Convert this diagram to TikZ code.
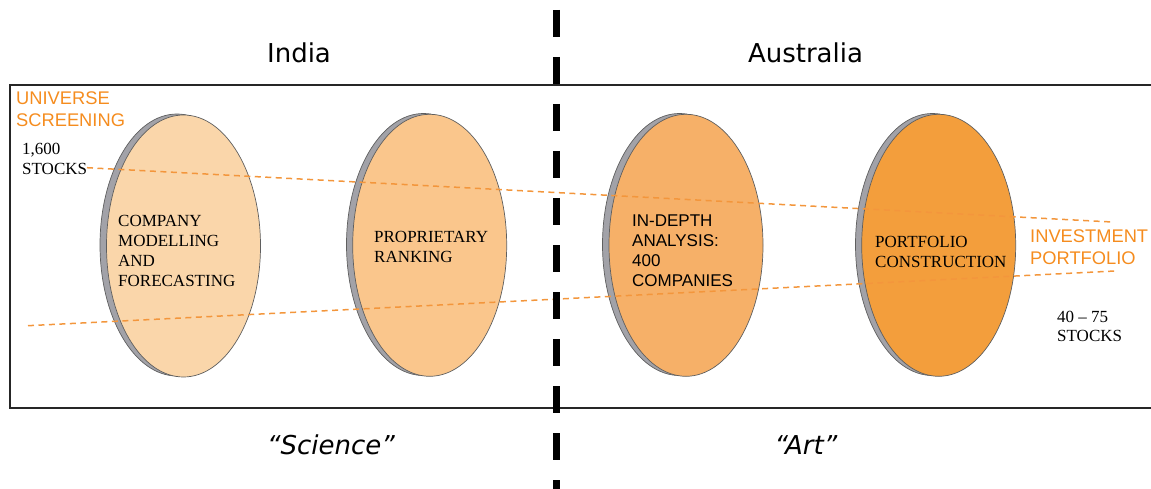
\documentclass[tikz,border=0pt]{standalone}
\usepackage{fontspec}
\setmainfont{Liberation Serif}
\newfontfamily\arialf{Liberation Sans}
\newfontfamily\dejavuf{DejaVu Sans}
\usetikzlibrary{shapes.geometric}
\definecolor{peachA}{RGB}{250,214,170}
\definecolor{peachB}{RGB}{250,198,140}
\definecolor{peachC}{RGB}{246,176,104}
\definecolor{peachD}{RGB}{243,158,60}
\definecolor{rimgray}{RGB}{162,162,168}
\definecolor{edgegray}{RGB}{95,95,95}
\definecolor{orangetxt}{RGB}{245,140,30}
\definecolor{orangeline}{RGB}{243,150,60}
\begin{document}
\begin{tikzpicture}[x=1pt,y=-1pt,
  disc/.style={ellipse,draw=edgegray,line width=0.7pt,minimum width=154pt,minimum height=262pt,inner sep=0pt,outer sep=0pt},
  rim/.style={disc,fill=rimgray},
  serlab/.style={anchor=north west,inner sep=0pt,align=left,font=\fontsize{17}{20}\selectfont},
  sanlab/.style={anchor=north west,inner sep=0pt,align=left,font=\arialf\fontsize{17}{20}\selectfont},
  orlab/.style={anchor=north west,inner sep=0pt,align=left,text=orangetxt,font=\arialf\fontsize{18.3}{21.7}\selectfont},
  title/.style={anchor=base,inner sep=0pt,font=\dejavuf\fontsize{26}{30}\selectfont},
  funnel/.style={draw=orangeline,line width=1.5pt,dash pattern=on 6pt off 4.5pt},
  divider/.style={draw=black,line width=6.7pt,dash pattern=on 26.7pt off 20.3pt},
  frameline/.style={draw=black!85,line width=2pt}
]
\useasboundingbox (0,0) rectangle (1151,489);

% frame (right side lies outside the picture)
\draw[frameline] (1160,85.5) -- (10,85.5) -- (10,407.5) -- (1160,407.5);

% discs
\node[rim] (r1) at (177,245) {};
\node[disc,fill=peachA] (e1) at (183.5,246) {};
\node[rim] (r2) at (423.5,244.5) {};
\node[disc,fill=peachB] (e2) at (429.7,245.3) {};
\node[rim] (r3) at (679.5,244.5) {};
\node[disc,fill=peachC] (e3) at (686,245.3) {};
\node[rim] (r4) at (932.5,244.5) {};
\node[disc,fill=peachD] (e4) at (938.7,245.3) {};

% funnel lines
\coordinate (ta) at (87,167.7);
\coordinate (tb) at (1112,222);
\coordinate (ba) at (28,325.7);
\coordinate (bb) at (1115,271);
\draw[funnel] (ta) -- (tb);
\draw[funnel] (ba) -- (bb);

% labels
\node[orlab] (univ) at (16,91.7) {UNIVERSE\\SCREENING};
\node[serlab] (s1600) at (22,143) {1,600\\STOCKS};
\node[serlab] (t1) at (118,215) {COMPANY\\MODELLING\\AND\\FORECASTING};
\node[serlab] (t2) at (374,231) {PROPRIETARY\\RANKING};
\node[sanlab] (t3) at (632,215) {IN-DEPTH\\ANALYSIS:\\400\\COMPANIES};
\node[serlab] (t4) at (875,236) {PORTFOLIO\\CONSTRUCTION};
\node[orlab] (inv) at (1030,230) {INVESTMENT\\PORTFOLIO};
\node[serlab,font=\fontsize{17}{19.3}\selectfont] (s40) at (1057,310.7) {40 – 75\\STOCKS};

% titles
\node[title] (india) at (299,62.3) {India};
\node[title] (aus) at (805.5,62.3) {Australia};
\node[title,font=\dejavuf\itshape\fontsize{26}{30}\selectfont] (sci) at (331,454) {“Science”};
\node[title,font=\dejavuf\itshape\fontsize{26}{30}\selectfont] (art) at (806,454) {“Art”};

% divider
\coordinate (dtop) at (556.7,10);
\coordinate (dbot) at (556.7,495);
\draw[divider] (dtop) -- (dbot);
\end{tikzpicture}
\end{document}
